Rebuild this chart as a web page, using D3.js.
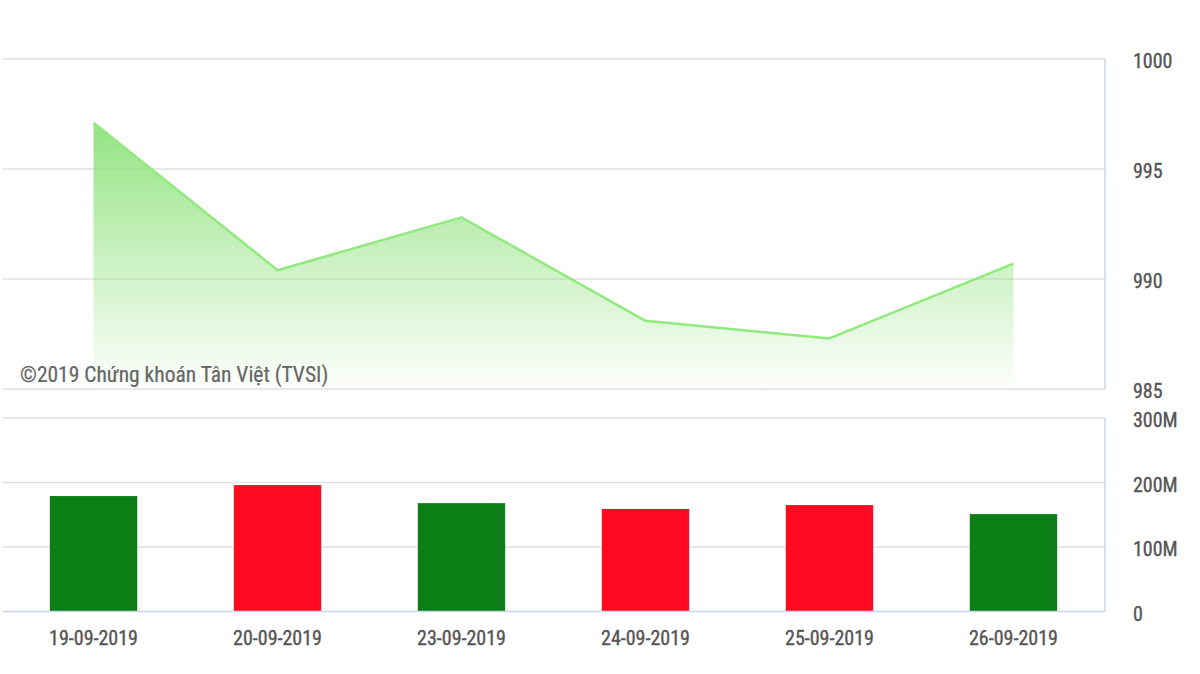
<!DOCTYPE html>
<html>
<head>
<meta charset="utf-8">
<script src="https://cdn.jsdelivr.net/npm/d3@7"></script>
<style>
  body { margin: 0; background: #fff; }
  text { font-family: "Roboto Condensed", "Liberation Sans Narrow", Roboto, sans-serif; }
</style>
</head>
<body>
<div id="chart"></div>
<script>
// data
const dates = ["19-09-2019", "20-09-2019", "23-09-2019", "24-09-2019", "25-09-2019", "26-09-2019"];
const closeValues = [997.1, 990.4, 992.8, 988.1, 987.3, 990.7];
const volumeValues = [179e6, 196e6, 168e6, 159e6, 165e6, 151e6];
const volumeUp = [true, false, true, false, false, true];
const priceTicks = [985, 990, 995, 1000];
const volumeTicks = [0, 100e6, 200e6, 300e6];

const width = 1200, height = 674;
const left = 2, right = 1105;

const svg = d3.select("#chart").append("svg")
  .attr("width", width)
  .attr("height", height);

const x = d3.scaleBand().domain(dates).range([left, right]).paddingInner(0.525).paddingOuter(0.26);
const cx = d => x(d) + x.bandwidth() / 2;

const yPrice = d3.scaleLinear().domain([985, 1000]).range([389, 59]);
const yVol = d3.scaleLinear().domain([0, 300e6]).range([611.5, 418]);

// gradient for area
const grad = svg.append("defs").append("linearGradient")
  .attr("id", "areaGrad").attr("x1", 0).attr("y1", 0).attr("x2", 0).attr("y2", 1);
grad.append("stop").attr("offset", "0%").attr("stop-color", "#8fe27c").attr("stop-opacity", 0.95);
grad.append("stop").attr("offset", "100%").attr("stop-color", "#8fe27c").attr("stop-opacity", 0.03);

// gridlines
svg.append("g").selectAll("line").data(priceTicks).join("line")
  .attr("x1", left + 1).attr("x2", right)
  .attr("y1", d => yPrice(d)).attr("y2", d => yPrice(d))
  .attr("stroke", "#e0e0e0").attr("stroke-width", 1.5);

svg.append("g").selectAll("line").data(volumeTicks.slice(1)).join("line")
  .attr("x1", left + 1).attr("x2", right)
  .attr("y1", d => yVol(d)).attr("y2", d => yVol(d))
  .attr("stroke", "#e0e0e0").attr("stroke-width", 1.5);

// area + line
const pts = dates.map((d, i) => [cx(d), closeValues[i]]);
svg.append("path")
  .datum(pts)
  .attr("fill", "url(#areaGrad)")
  .attr("d", d3.area().x(d => d[0]).y0(yPrice(985) - 4).y1(d => yPrice(d[1])));
svg.append("path")
  .datum(pts)
  .attr("fill", "none")
  .attr("stroke", "#90ea7e")
  .attr("stroke-width", 2.5)
  .attr("stroke-linejoin", "round")
  .attr("d", d3.line().x(d => d[0]).y(d => yPrice(d[1])));

// volume bars
svg.append("g").selectAll("rect").data(dates).join("rect")
  .attr("x", d => x(d))
  .attr("width", x.bandwidth())
  .attr("y", (d, i) => yVol(volumeValues[i]))
  .attr("height", (d, i) => yVol(0) - yVol(volumeValues[i]))
  .attr("fill", (d, i) => volumeUp[i] ? "#0b7f15" : "#ff0a21");

// axis lines (right side + bottom)
svg.append("line").attr("x1", right).attr("x2", right)
  .attr("y1", yPrice(1000)).attr("y2", yPrice(985))
  .attr("stroke", "#ccd6eb").attr("stroke-width", 1.5);
svg.append("line").attr("x1", right).attr("x2", right)
  .attr("y1", yVol(300e6)).attr("y2", yVol(0))
  .attr("stroke", "#ccd6eb").attr("stroke-width", 1.5);
svg.append("line").attr("x1", left + 1).attr("x2", right)
  .attr("y1", yVol(0)).attr("y2", yVol(0))
  .attr("stroke", "#ccd6eb").attr("stroke-width", 1.5);

// label style: medium-weight look
const labelStyle = sel => sel
  .attr("font-size", 20)
  .attr("fill", "#555")
  .attr("stroke", "#555")
  .attr("stroke-width", 0.35);

// right y labels
svg.append("g").selectAll("text").data(priceTicks).join("text")
  .attr("x", 1133).attr("y", d => yPrice(d) + 9)
  .call(labelStyle)
  .text(d => d);

const fmtVol = d => d === 0 ? "0" : (d / 1e6) + "M";
svg.append("g").selectAll("text").data(volumeTicks).join("text")
  .attr("x", 1133).attr("y", d => yVol(d) + 9)
  .call(labelStyle)
  .text(fmtVol);

// x labels
svg.append("g").selectAll("text").data(dates).join("text")
  .attr("x", d => cx(d)).attr("y", 645)
  .attr("text-anchor", "middle")
  .call(labelStyle)
  .text(d => d);

// credit
svg.append("text")
  .attr("x", 20).attr("y", 382)
  .attr("font-size", 21.5).attr("fill", "#666")
  .attr("stroke", "#666").attr("stroke-width", 0.2)
  .text("©2019 Chứng khoán Tân Việt (TVSI)");
</script>
</body>
</html>
